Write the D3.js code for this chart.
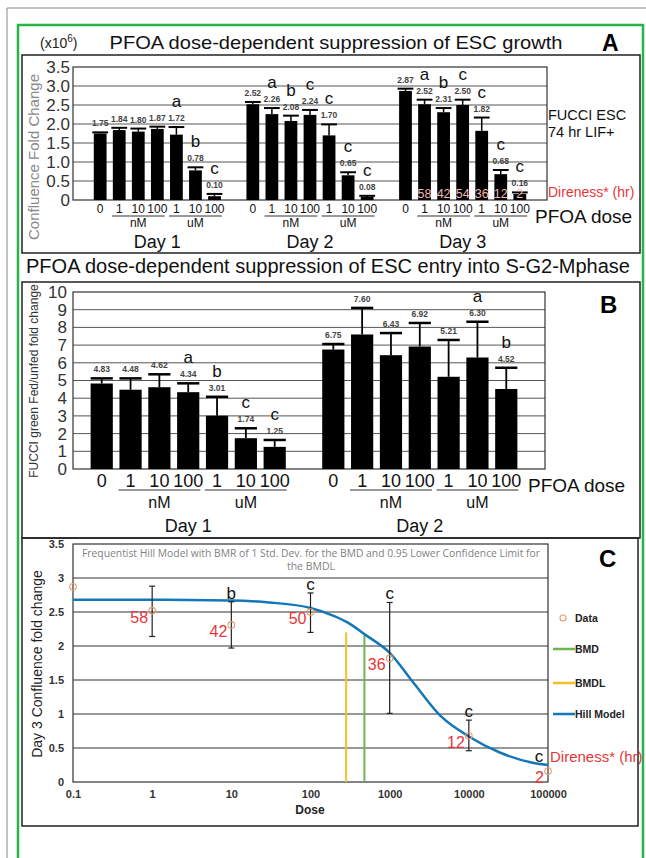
<!DOCTYPE html>
<html>
<head>
<meta charset="utf-8">
<script src="https://cdn.jsdelivr.net/npm/d3@7"></script>
<style>
  body { margin: 0; background: #fff; }
  svg { display: block; }
</style>
</head>
<body>
<div id="chart"></div>
<script>
'use strict';

// ---- shared x categories ----
const doseTicks = ["0", "1", "10", "100", "1", "10", "100"];
const unitGroups = [["nM", 1, 3], ["uM", 4, 6]];

// ---- panel A: confluence fold change (x10^6) ----
const growthDays = ["Day 1", "Day 2", "Day 3"];
const growthMean = [
  [1.75, 1.84, 1.80, 1.87, 1.72, 0.78, 0.10],
  [2.52, 2.26, 2.08, 2.24, 1.70, 0.65, 0.08],
  [2.87, 2.52, 2.31, 2.50, 1.82, 0.68, 0.16]
];
const growthUpper = [
  [1.78, 1.90, 1.88, 1.93, 1.92, 0.86, 0.16],
  [2.58, 2.42, 2.22, 2.37, 1.99, 0.73, 0.11],
  [2.93, 2.64, 2.42, 2.64, 2.17, 0.79, 0.20]
];
const growthLetters = [
  ["", "", "", "", "a", "b", "c"],
  ["", "a", "b", "c", "c", "c", "c"],
  ["", "a", "b", "c", "c", "c", "c"]
];
const growthDireness = ["", "58", "42", "54", "36", "12", "2"];   // Day 3 bars
const growthTicks = [0, 0.5, 1, 1.5, 2, 2.5, 3, 3.5];

// ---- panel B: FUCCI green fed/unfed fold change ----
const fucciDays = ["Day 1", "Day 2"];
const fucciMean = [
  [4.83, 4.48, 4.62, 4.34, 3.01, 1.74, 1.25],
  [6.75, 7.60, 6.43, 6.92, 5.21, 6.30, 4.52]
];
const fucciUpper = [
  [5.12, 5.12, 5.35, 4.84, 4.08, 2.30, 1.64],
  [7.06, 9.10, 7.68, 8.25, 7.29, 8.32, 5.72]
];
const fucciLetters = [
  ["", "", "", "a", "b", "c", "c"],
  ["", "", "", "", "", "a", "b"]
];
const fucciTicks = [0, 1, 2, 3, 4, 5, 6, 7, 8, 9, 10];

// ---- panel C: Hill model, day 3 ----
const hillDose = [0.1, 1, 10, 100, 1000, 10000, 100000];
const hillMean = [2.87, 2.52, 2.31, 2.50, 1.82, 0.68, 0.16];
const hillLow = [null, 2.14, 1.97, 2.20, 1.01, 0.46, null];
const hillHigh = [null, 2.88, 2.65, 2.78, 2.64, 0.91, null];
const hillLetters = ["", "", "b", "c", "c", "c", "c"];
const hillDireness = ["", "58", "42", "50", "36", "12", "2"];
const hillCurveDose = [0.1, 1, 10, 30, 100, 200, 300, 500, 1000, 2000, 4500, 10000, 25000, 66000, 100000];
const hillCurveFit = [2.68, 2.68, 2.67, 2.64, 2.56, 2.44, 2.34, 2.16, 1.90, 1.46, 0.96, 0.67, 0.43, 0.28, 0.25];
const bmdDose = 480, bmdTop = 2.16;
const bmdlDose = 282, bmdlTop = 2.20;
const hillXTicks = [0.1, 1, 10, 100, 1000, 10000, 100000];
const hillYTicks = [0, 0.5, 1, 1.5, 2, 2.5, 3, 3.5];
const legendItems = ["Data", "BMD", "BMDL", "Hill Model"];

const FONT = "'Liberation Sans', Arial, sans-serif";
const RED = "#e5363a";

const svg = d3.select("#chart").append("svg")
  .attr("width", 646).attr("height", 858)
  .attr("font-family", FONT);

svg.append("rect").attr("width", 646).attr("height", 858).attr("fill", "#fff");

// outer page lines
svg.append("path").attr("d", "M7,858V8H646").attr("fill", "none").attr("stroke", "#888").attr("stroke-width", 1);
svg.append("path").attr("d", "M18,858V25H643V858").attr("fill", "none").attr("stroke", "#27b54a").attr("stroke-width", 2.5);

// panel boxes
[[22, 55, 618, 198], [22, 282, 618, 256], [22, 538, 616, 288]].forEach(b => {
  svg.append("rect").attr("x", b[0]).attr("y", b[1]).attr("width", b[2]).attr("height", b[3])
    .attr("fill", "none").attr("stroke", "#222").attr("stroke-width", 1.5);
});

// generic grouped bar panel (A and B)
function barPanel(p) {
  const g = svg.append("g");
  const y = d3.scaleLinear().domain([0, p.yMax]).range([p.bottom, p.top]);
  const xg = d3.scaleBand().domain(p.days).range([p.x0, p.x1])
    .paddingInner(p.gPadIn).paddingOuter(p.gPadOut);
  const xb = d3.scaleBand().domain(d3.range(doseTicks.length))
    .range([0, xg.bandwidth()]).padding(p.barPad);
  const bw = xb.bandwidth();

  // grid + frame
  g.append("g").selectAll("line").data(p.yTicks.slice(1, -1)).join("line")
    .attr("x1", p.left).attr("x2", p.right)
    .attr("y1", d => y(d)).attr("y2", d => y(d))
    .attr("stroke", "#555").attr("stroke-width", 1);
  g.append("rect").attr("x", p.left).attr("y", p.top)
    .attr("width", p.right - p.left).attr("height", p.bottom - p.top)
    .attr("fill", "none").attr("stroke", "#333").attr("stroke-width", 1.2);

  // y axis
  const ya = g.append("g").attr("transform", `translate(${p.left},0)`)
    .call(d3.axisLeft(y).tickValues(p.yTicks).tickSize(0).tickPadding(p.yPad).tickFormat(p.yFormat));
  ya.select(".domain").remove();
  ya.attr("font-family", FONT).attr("font-size", p.yFont).attr("color", "#333");

  const rows = p.days.flatMap((day, di) => p.mean[di].map((v, i) => ({
    day, i, v, up: p.upper[di][i], letter: p.letters[di][i]
  })));
  const cx = d => xg(d.day) + xb(d.i) + bw / 2;

  g.append("g").selectAll("rect").data(rows).join("rect")
    .attr("x", d => xg(d.day) + xb(d.i))
    .attr("y", d => y(d.v))
    .attr("width", bw)
    .attr("height", d => y(0) - y(d.v))
    .attr("fill", "#000");

  // error bars (upper half)
  const eb = g.append("g").attr("stroke", "#000").attr("stroke-width", p.errW);
  eb.selectAll("line.stem").data(rows).join("line").attr("class", "stem")
    .attr("x1", cx).attr("x2", cx).attr("y1", d => y(d.v)).attr("y2", d => y(d.up));
  eb.selectAll("line.cap").data(rows).join("line").attr("class", "cap")
    .attr("x1", d => cx(d) - bw / 2 - p.capExtra).attr("x2", d => cx(d) + bw / 2 + p.capExtra)
    .attr("y1", d => y(d.up)).attr("y2", d => y(d.up))
    .attr("stroke-width", p.capW);

  // value labels and letters
  g.append("g").selectAll("text").data(rows).join("text")
    .attr("x", cx).attr("y", d => y(d.up) - p.labelGap)
    .attr("text-anchor", "middle").attr("font-size", p.labelFont)
    .attr("font-weight", "bold").attr("fill", "#444")
    .text(d => d.v.toFixed(2));
  g.append("g").selectAll("text").data(rows.filter(d => d.letter)).join("text")
    .attr("x", cx).attr("y", d => y(d.up) - p.labelGap - p.letterGap)
    .attr("text-anchor", "middle").attr("font-size", p.letterFont).attr("fill", "#111")
    .text(d => d.letter);

  // x ticks, unit groups, day names
  p.days.forEach(day => {
    const ax = g.append("g").attr("transform", `translate(${xg(day)},${p.bottom})`)
      .call(d3.axisBottom(xb).tickSize(0).tickPadding(p.xPad).tickFormat(i => doseTicks[i]));
    ax.select(".domain").remove();
    ax.attr("font-family", FONT).attr("font-size", p.xFont).attr("color", "#111");
    unitGroups.forEach(([u, a, b]) => {
      g.append("line")
        .attr("x1", xg(day) + xb(a) - 1).attr("x2", xg(day) + xb(b) + bw + 1)
        .attr("y1", p.underY).attr("y2", p.underY)
        .attr("stroke", "#333").attr("stroke-width", 1);
      g.append("text")
        .attr("x", xg(day) + xb((a + b) / 2) + bw / 2).attr("y", p.unitY)
        .attr("text-anchor", "middle").attr("font-size", p.unitFont).attr("fill", "#111")
        .text(u);
    });
    g.append("text")
      .attr("x", xg(day) + xg.bandwidth() / 2).attr("y", p.dayY)
      .attr("text-anchor", "middle").attr("font-size", p.dayFont).attr("fill", "#111")
      .text(day);
  });

  return {g, y, xg, xb, bw};
}

// ---------------- Panel A ----------------
const unitA = svg.append("text").attr("x", 40).attr("y", 48).attr("font-size", 14).attr("fill", "#222");
unitA.append("tspan").text("(x10");
unitA.append("tspan").attr("dy", -6).attr("font-size", 10).text("6");
unitA.append("tspan").attr("dy", 6).text(")");

svg.append("text").attr("x", 336).attr("y", 49).attr("text-anchor", "middle")
  .attr("font-size", 19).attr("textLength", 453).attr("lengthAdjust", "spacingAndGlyphs")
  .attr("fill", "#111").text("PFOA dose-dependent suppression of ESC growth");
svg.append("text").attr("x", 602).attr("y", 51).attr("font-size", 23).attr("font-weight", "bold").text("A");

const pA = barPanel({
  days: growthDays, mean: growthMean, upper: growthUpper, letters: growthLetters,
  yMax: 3.5, yTicks: growthTicks, yFormat: d => d === 0 ? "0" : d.toFixed(1),
  x0: 73, x1: 547, gPadIn: 0.085, gPadOut: 0.095, barPad: 0.33,
  top: 67, bottom: 200, left: 73, right: 547,
  yFont: 17, yPad: 3, xFont: 12, xPad: 4.5,
  underY: 216, unitY: 227, unitFont: 12, dayY: 248, dayFont: 18,
  errW: 1.5, capW: 2, capExtra: 1.5,
  labelFont: 8.5, labelGap: 6, letterGap: 14, letterFont: 17
});

svg.append("text").attr("transform", "translate(39,157) rotate(-90)")
  .attr("text-anchor", "middle").attr("font-size", 15).attr("fill", "#8a8a8a")
  .text("Confluence Fold Change");

// direness hours on day 3 bars
pA.g.append("g").selectAll("text").data(growthDireness).join("text")
  .attr("x", (d, i) => pA.xg("Day 3") + pA.xb(i) + pA.bw / 2)
  .attr("y", 198)
  .attr("text-anchor", "middle").attr("font-size", 12.5).attr("fill", "#f2b5b5")
  .text(d => d);

svg.append("text").attr("x", 548).attr("y", 120).attr("font-size", 14.5).attr("fill", "#111").text("FUCCI ESC");
svg.append("text").attr("x", 548).attr("y", 137).attr("font-size", 14.5).attr("fill", "#111").text("74 hr LIF+");
svg.append("text").attr("x", 548).attr("y", 197).attr("font-size", 14).attr("fill", RED).text("Direness* (hr)");
svg.append("text").attr("x", 535).attr("y", 223).attr("font-size", 19).attr("fill", "#111").text("PFOA dose");

// ---------------- Panel B ----------------
svg.append("text").attr("x", 328).attr("y", 273).attr("text-anchor", "middle")
  .attr("font-size", 19.5).attr("textLength", 604).attr("lengthAdjust", "spacingAndGlyphs")
  .attr("fill", "#111").text("PFOA dose-dependent suppression of ESC entry into S-G2-Mphase");
svg.append("text").attr("x", 600).attr("y", 313).attr("font-size", 24).attr("font-weight", "bold").text("B");

barPanel({
  days: fucciDays, mean: fucciMean, upper: fucciUpper, letters: fucciLetters,
  yMax: 10, yTicks: fucciTicks, yFormat: d => String(d),
  x0: 84, x1: 524, gPadIn: 0.1, gPadOut: 0, barPad: 0.23,
  top: 292, bottom: 469, left: 73, right: 545,
  yFont: 17, yPad: 6, xFont: 18, xPad: 5,
  underY: 490, unitY: 508, unitFont: 16, dayY: 532, dayFont: 18,
  errW: 1.8, capW: 2.5, capExtra: 0,
  labelFont: 8.5, labelGap: 6, letterGap: 14, letterFont: 17
});

svg.append("text").attr("transform", "translate(38,381) rotate(-90)")
  .attr("text-anchor", "middle").attr("font-size", 12).attr("fill", "#333")
  .text("FUCCI green Fed/unfed fold change");
svg.append("text").attr("x", 528).attr("y", 492).attr("font-size", 19).attr("fill", "#111").text("PFOA dose");

// ---------------- Panel C ----------------
const gC = svg.append("g");
const xC = d3.scaleLog().domain([0.1, 100000]).range([73, 548]);
const yC = d3.scaleLinear().domain([0, 3.5]).range([782, 544]);

gC.append("g").selectAll("line").data(hillYTicks.slice(1, -1)).join("line")
  .attr("x1", 73).attr("x2", 548).attr("y1", d => yC(d)).attr("y2", d => yC(d))
  .attr("stroke", "#333").attr("stroke-width", 1);
gC.append("rect").attr("x", 73).attr("y", 544).attr("width", 475).attr("height", 238)
  .attr("fill", "none").attr("stroke", "#333").attr("stroke-width", 1.2);

const yaC = gC.append("g").attr("transform", "translate(73,0)")
  .call(d3.axisLeft(yC).tickValues(hillYTicks).tickSize(0).tickPadding(9).tickFormat(d => String(d)));
yaC.select(".domain").remove();
yaC.attr("font-family", FONT).attr("font-size", 11).attr("font-weight", "bold").attr("color", "#333");

const xaC = gC.append("g").attr("transform", "translate(0,782)")
  .call(d3.axisBottom(xC).tickValues(hillXTicks).tickSize(0).tickPadding(8).tickFormat(d => String(d)));
xaC.select(".domain").remove();
xaC.attr("font-family", FONT).attr("font-size", 11).attr("font-weight", "bold").attr("color", "#333");

gC.append("text").attr("x", 310).attr("y", 814).attr("text-anchor", "middle")
  .attr("font-size", 12).attr("font-weight", "bold").attr("fill", "#222").text("Dose");
gC.append("text").attr("transform", "translate(42,664) rotate(-90)")
  .attr("text-anchor", "middle").attr("font-size", 14).attr("fill", "#222")
  .text("Day 3 Confluence fold change");

// model title
gC.append("text").attr("x", 311).attr("y", 557).attr("text-anchor", "middle")
  .attr("font-family", "'Open Sans', 'Noto Sans', sans-serif").attr("font-size", 10.5).attr("fill", "#7f7f7f")
  .attr("textLength", 458).attr("lengthAdjust", "spacingAndGlyphs")
  .text("Frequentist Hill Model with BMR of 1 Std. Dev. for the BMD and 0.95 Lower Confidence Limit for");
gC.append("text").attr("x", 311).attr("y", 570).attr("text-anchor", "middle")
  .attr("font-family", "'Open Sans', 'Noto Sans', sans-serif").attr("font-size", 10.5).attr("fill", "#7f7f7f")
  .text("the BMDL");

// BMDL / BMD lines
gC.append("line").attr("x1", xC(bmdlDose)).attr("x2", xC(bmdlDose))
  .attr("y1", yC(0)).attr("y2", yC(bmdlTop)).attr("stroke", "#f4c024").attr("stroke-width", 2);
gC.append("line").attr("x1", xC(bmdDose)).attr("x2", xC(bmdDose))
  .attr("y1", yC(0)).attr("y2", yC(bmdTop)).attr("stroke", "#6db553").attr("stroke-width", 2);

// fitted Hill curve
const hillLine = d3.line().x(d => xC(d[0])).y(d => yC(d[1])).curve(d3.curveMonotoneX);
gC.append("path").datum(d3.zip(hillCurveDose, hillCurveFit))
  .attr("d", hillLine).attr("fill", "none").attr("stroke", "#1477b8").attr("stroke-width", 2.5);

const hillRows = hillDose.map((d, i) => ({
  dose: d, v: hillMean[i], lo: hillLow[i], hi: hillHigh[i],
  letter: hillLetters[i], dire: hillDireness[i]
}));

// error bars
const ebC = gC.append("g").attr("stroke", "#222").attr("stroke-width", 1.2);
hillRows.filter(d => d.lo != null).forEach(d => {
  const x = xC(d.dose);
  ebC.append("line").attr("x1", x).attr("x2", x).attr("y1", yC(d.lo)).attr("y2", yC(d.hi));
  ebC.append("line").attr("x1", x - 3).attr("x2", x + 3).attr("y1", yC(d.lo)).attr("y2", yC(d.lo));
  ebC.append("line").attr("x1", x - 3).attr("x2", x + 3).attr("y1", yC(d.hi)).attr("y2", yC(d.hi));
});

// data points
gC.append("g").selectAll("circle").data(hillRows).join("circle")
  .attr("cx", d => xC(d.dose)).attr("cy", d => yC(d.v)).attr("r", 3.3)
  .attr("fill", "none").attr("stroke", "#e59b6a").attr("stroke-width", 1.1);

// letters (kept inside the plot frame) and direness hours
gC.append("g").selectAll("text").data(hillRows.filter(d => d.letter)).join("text")
  .attr("x", d => Math.min(xC(d.dose), 539))
  .attr("y", d => d.hi != null ? yC(d.hi) - 3 : yC(d.v) - 9)
  .attr("text-anchor", "middle").attr("font-size", 17).attr("fill", "#111")
  .text(d => d.letter);
gC.append("g").selectAll("text").data(hillRows.filter(d => d.dire)).join("text")
  .attr("x", d => xC(d.dose) - 4).attr("y", d => yC(d.v) + 12)
  .attr("text-anchor", "end").attr("font-size", 16).attr("fill", RED)
  .text(d => d.dire);

gC.append("text").attr("x", 550).attr("y", 762).attr("font-size", 15).attr("fill", RED).text("Direness* (hr)");
gC.append("text").attr("x", 599).attr("y", 567).attr("font-size", 24).attr("font-weight", "bold").text("C");

// legend
const legendColors = ["#e59b6a", "#6db553", "#f4c024", "#1477b8"];
const legendY = [618, 649, 683, 714];
legendItems.forEach((name, i) => {
  if (i === 0) {
    gC.append("circle").attr("cx", 563).attr("cy", legendY[i]).attr("r", 3)
      .attr("fill", "none").attr("stroke", legendColors[i]).attr("stroke-width", 1.1);
  } else {
    gC.append("line").attr("x1", 553).attr("x2", 575).attr("y1", legendY[i]).attr("y2", legendY[i])
      .attr("stroke", legendColors[i]).attr("stroke-width", 2.5);
  }
  gC.append("text").attr("x", 575).attr("y", legendY[i] + 4)
    .attr("font-size", 10.5).attr("font-weight", "bold").attr("fill", "#222").text(name);
});
</script>
</body>
</html>
